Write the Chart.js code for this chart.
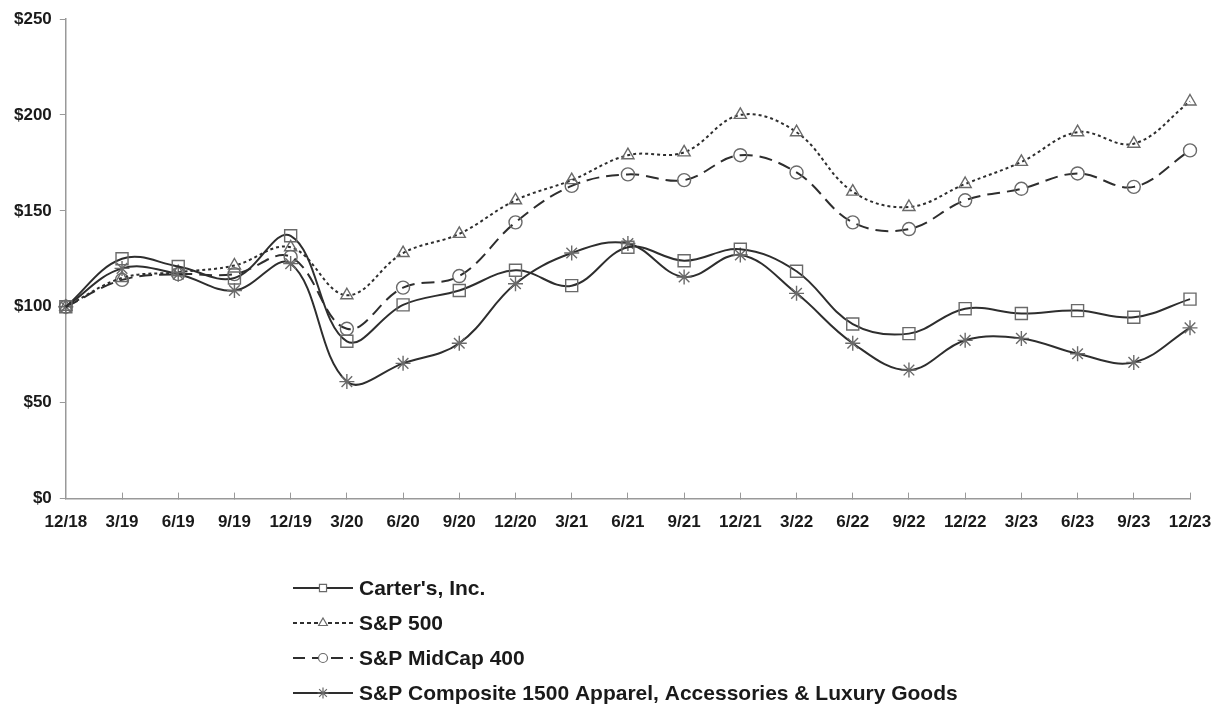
<!DOCTYPE html>
<html lang="en">
<head>
    <meta charset="UTF-8">
    <title>Comparison of Cumulative Total Return</title>
    <script src="https://cdn.jsdelivr.net/npm/chart.js"></script>
    <style>
        html, body { margin: 0; padding: 0; background: #fff; }
        .chart-container { position: relative; width: 1224px; height: 707px; }
    </style>
</head>
<body>
    <div class="chart-container">
        <canvas id="returnChart"></canvas>
    </div>

    <script>
        const quarters = ['12/18', '3/19', '6/19', '9/19', '12/19', '3/20', '6/20', '9/20', '12/20', '3/21', '6/21',
                          '9/21', '12/21', '3/22', '6/22', '9/22', '12/22', '3/23', '6/23', '9/23', '12/23'];
        const carters = [100, 125, 121, 115, 137, 82, 101, 108.5, 119, 111, 131, 124, 130, 118.5, 91, 86, 99, 96.5, 98, 94.5, 104];
        const sp500 = [100, 115, 118, 121.5, 131, 106, 128, 138, 155.5, 166, 179, 180.5, 200, 191, 160, 152, 164, 175.5, 191, 185, 207];
        const midcap400 = [100, 114, 117, 117, 126, 88.5, 110, 116, 144, 163, 169, 166, 179, 170, 144, 140.5, 155.5, 161.5, 169.5, 162.5, 181.5];
        const apparel = [100, 120, 117, 108.5, 122.5, 61, 70.5, 81, 112, 128, 133, 115.5, 127, 107, 81, 67, 82.5, 83.5, 75.5, 71, 89];
        const yTicks = [0, 50, 100, 150, 200, 250];

        const lineColor = '#2e2e2e';
        const markColor = '#6a6a6a';
        const fontFamily = '"Liberation Sans", Arial, sans-serif';

        const seriesList = [
            { label: "Carter's, Inc.", data: carters, dash: [], pointStyle: 'rect', radius: 8.5, legendRadius: 5, legendDash: [] },
            { label: 'S&P 500', data: sp500, dash: [3, 3], pointStyle: 'triangle', radius: 7, legendRadius: 5, legendDash: [4, 3] },
            { label: 'S&P MidCap 400', data: midcap400, dash: [13, 7], pointStyle: 'circle', radius: 6.5, legendRadius: 4.5, legendDash: [12, 7] },
            { label: 'S&P Composite 1500 Apparel, Accessories & Luxury Goods', data: apparel, dash: [], pointStyle: 'star', radius: 7.5, legendRadius: 5.5, legendDash: [] }
        ];

        // legend stacked under the plot, like the original
        const stackedLegend = {
            id: 'stackedLegend',
            afterDraw(chart) {
                const ctx = chart.ctx;
                const x0 = 293, y0 = 588, rowH = 35;
                ctx.save();
                seriesList.forEach((s, i) => {
                    const y = y0 + i * rowH;
                    ctx.strokeStyle = lineColor;
                    ctx.lineWidth = 2;
                    ctx.setLineDash(s.legendDash);
                    ctx.beginPath();
                    ctx.moveTo(x0, y);
                    ctx.lineTo(x0 + 60, y);
                    ctx.stroke();
                    ctx.setLineDash([]);
                    ctx.fillStyle = '#fff';
                    ctx.strokeStyle = markColor;
                    ctx.lineWidth = 1.2;
                    Chart.helpers.drawPoint(ctx, { pointStyle: s.pointStyle, radius: s.legendRadius, borderWidth: 1.2 }, x0 + 30, y);
                    ctx.fillStyle = '#1a1a1a';
                    ctx.font = 'bold 21px ' + fontFamily;
                    ctx.textBaseline = 'middle';
                    ctx.fillText(s.label, x0 + 66, y + 1);
                });
                ctx.restore();
            }
        };

        const ctx = document.getElementById('returnChart').getContext('2d');
        new Chart(ctx, {
            type: 'line',
            data: {
                labels: quarters,
                datasets: seriesList.map(s => ({
                    label: s.label,
                    data: s.data,
                    borderColor: lineColor,
                    borderWidth: 2,
                    borderDash: s.dash,
                    tension: 0.38,
                    fill: false,
                    pointStyle: s.pointStyle,
                    pointRadius: s.radius,
                    pointBorderColor: markColor,
                    pointBackgroundColor: 'rgba(0,0,0,0)',
                    pointBorderWidth: 1.4
                }))
            },
            options: {
                responsive: true,
                maintainAspectRatio: false,
                animation: false,
                layout: { padding: { left: 6, right: 34, top: 19, bottom: 154 } },
                plugins: {
                    legend: { display: false },
                    tooltip: { enabled: false }
                },
                scales: {
                    x: {
                        offset: false,
                        afterFit: scale => { scale.paddingLeft = 0; scale.paddingRight = 0; },
                        grid: { display: true, drawOnChartArea: false, drawTicks: true, tickLength: -6, color: '#999' },
                        border: { color: '#999', width: 1.5 },
                        ticks: {
                            color: '#1a1a1a', autoSkip: false, maxRotation: 0, padding: 20,
                            font: { family: fontFamily, size: 17, weight: 'bold' }
                        }
                    },
                    y: {
                        min: 0,
                        max: 250,
                        afterBuildTicks: axis => { axis.ticks = yTicks.map(v => ({ value: v })); },
                        grid: { display: true, drawOnChartArea: false, drawTicks: true, tickLength: 6, color: '#999' },
                        border: { color: '#999', width: 1.5 },
                        ticks: {
                            color: '#1a1a1a', padding: 8,
                            font: { family: fontFamily, size: 17, weight: 'bold' },
                            callback: v => '$' + v
                        }
                    }
                }
            },
            plugins: [stackedLegend]
        });
    </script>
</body>
</html>
